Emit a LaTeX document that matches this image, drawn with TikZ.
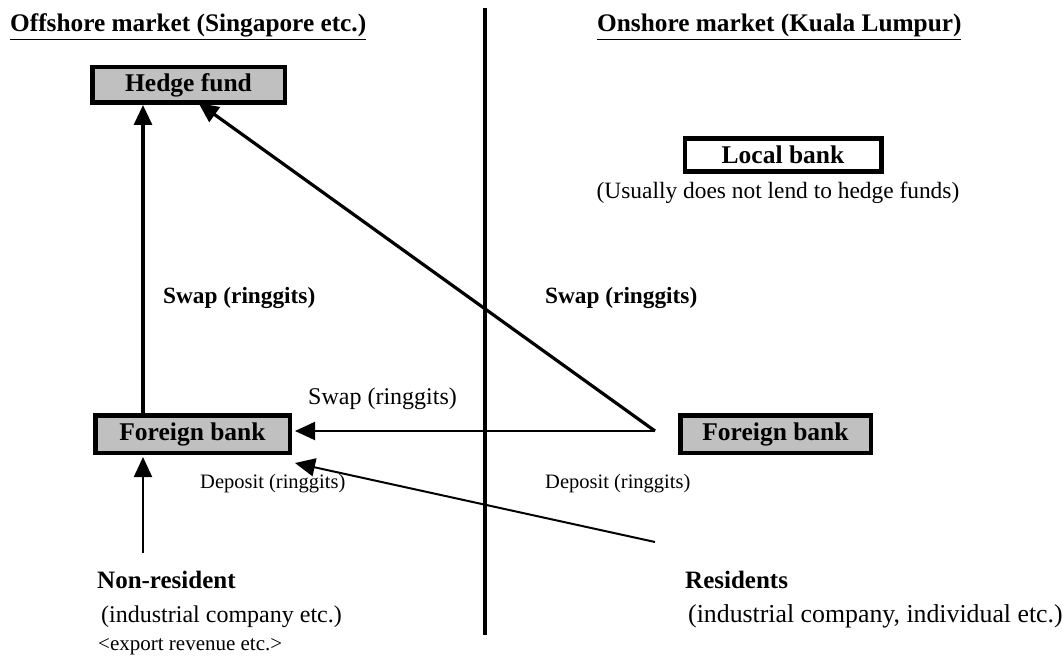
\documentclass[tikz,border=0pt]{standalone}
\usepackage{fontspec}
\setmainfont{Liberation Serif}
\usetikzlibrary{arrows.meta}
\definecolor{boxgray}{RGB}{192,192,192}
\begin{document}
\begin{tikzpicture}[x=1pt,y=-1pt,
  box/.style={draw=black,line width=4.5pt,inner sep=0pt,
    font=\fontsize{25.5}{30}\selectfont\bfseries},
  graybox/.style={box,fill=boxgray},
  head/.style={anchor=base west,inner sep=0pt,font=\fontsize{25.3}{30}\selectfont\bfseries},
  boldlbl/.style={anchor=base west,inner sep=0pt,font=\fontsize{25}{30}\selectfont\bfseries},
  swaplbl/.style={anchor=base west,inner sep=0pt,font=\fontsize{23.3}{28}\selectfont\bfseries},
  lbl/.style={anchor=base west,inner sep=0pt,font=\fontsize{24}{29}\selectfont},
  deplbl/.style={anchor=base west,inner sep=0pt,font=\fontsize{20.5}{25}\selectfont},
  flowthick/.style={line width=3.2pt,-{Triangle[length=20pt,width=18pt]}},
  flowthin/.style={line width=2pt,-{Triangle[length=20pt,width=18pt]}}]
\useasboundingbox (0,0) rectangle (1063,666);

% column headings and divider
\node[head] (hoff) at (10,32) {\underline{Offshore market (Singapore etc.)}};
\node[head] (hon) at (597,32) {\underline{Onshore market (Kuala Lumpur)}};
\draw[line width=4pt] (485,8) -- (485,635);

% institutions
\node[graybox,minimum width=192.5pt,minimum height=35.5pt] (hf) at (188.5,85) {Hedge fund};
\node[box,fill=white,minimum width=196.5pt,minimum height=32.5pt] (lb) at (783,155) {Local bank};
\node[lbl,anchor=base,font=\fontsize{23.4}{28}\selectfont] (lbnote) at (778,198) {(Usually does not lend to hedge funds)};
\node[graybox,minimum width=194.5pt,minimum height=37.5pt] (fbL) at (192.5,434) {Foreign bank};
\node[graybox,minimum width=190.5pt,minimum height=37.5pt] (fbR) at (775.5,434) {Foreign bank};

% depositors
\node[boldlbl] (nr) at (97,588) {Non-resident};
\node[lbl] (nrsub) at (101,622) {(industrial company etc.)};
\node[lbl,font=\fontsize{21}{25}\selectfont] (nrexp) at (98,650) {<export revenue etc.>};
\node[boldlbl] (res) at (685,588) {Residents};
\node[lbl,font=\fontsize{25.8}{30}\selectfont] (ressub) at (688,622) {(industrial company, individual etc.)};

% flow labels
\node[swaplbl] (swapL) at (163,303) {Swap (ringgits)};
\node[swaplbl] (swapR) at (545,303) {Swap (ringgits)};
\node[lbl] (swapS) at (308,404) {Swap (ringgits)};
\node[deplbl] (depL) at (200,488) {Deposit (ringgits)};
\node[deplbl] (depR) at (545,488) {Deposit (ringgits)};

% flow anchors
\coordinate (vx) at (143,0);
\coordinate (src) at (655,431);
\coordinate (nrtop) at (143,553);
\coordinate (restop) at (655,542);

% flows
\draw[flowthick] (vx |- fbL.north) -- (vx |- hf.south);
\draw[flowthick] (src) -- ([shift={(10,-2)}]hf.south);
\draw[flowthin] (src) -- ([xshift=3pt]fbL.east |- src);
\draw[flowthin] (nrtop) -- ([yshift=-2pt]vx |- fbL.south);
\draw[flowthin] (restop) -- ([shift={(3,8)}]fbL.south east);
\end{tikzpicture}
\end{document}
